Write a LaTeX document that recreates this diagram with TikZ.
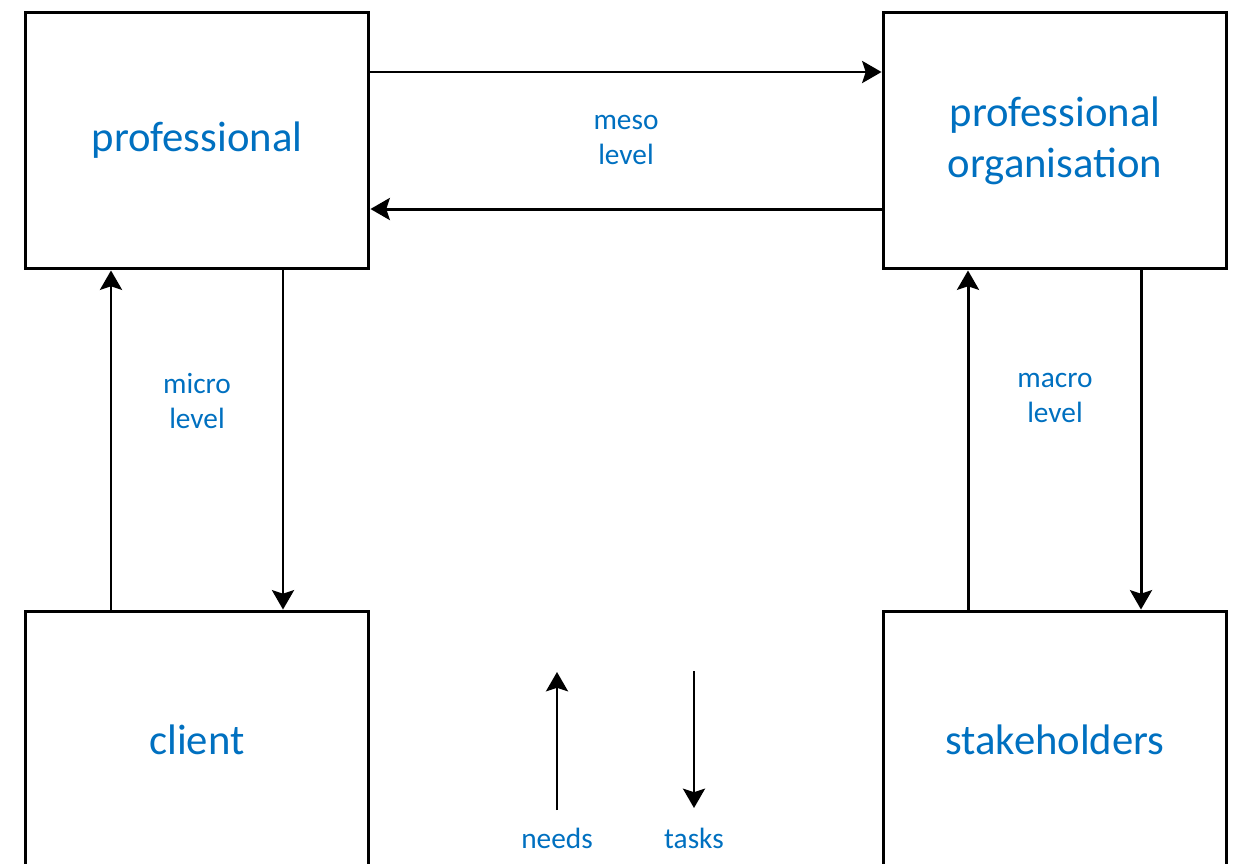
\documentclass[tikz,border=0pt]{standalone}
\usepackage{fontspec}
\setmainfont{Carlito}
\usetikzlibrary{arrows.meta}
\definecolor{txtblue}{HTML}{0070C0}
\tikzset{
  box/.style={draw, line width=1.7pt, minimum width=6.88cm, minimum height=5.14cm,
    text=txtblue, font=\fontsize{24.3}{29}\selectfont, align=center},
  lvl/.style={text=txtblue, font=\fontsize{16.7}{20}\selectfont, align=center},
  arr/.style={line width=1.7pt, -{Stealth[length=11pt, width=12.5pt, inset=2pt]}}
}
\begin{document}
\begin{tikzpicture}[x=0.02cm, y=-0.02cm]
            \useasboundingbox (0,0) rectangle (1235,863);
            \node[box] (prof) at (197,140.5) {professional};
            \node[box] (org) at (1055,140.5) {professional\\organisation};
            \node[box] (client) at (197,739.5) {client};
            \node[box] (stake) at (1055,739.5) {stakeholders};
            \node[lvl] (meso) at (626,140) {meso\\level};
            \node[lvl] (micro) at (197,401) {micro\\level};
            \node[lvl] (macro) at (1055,398) {macro\\level};
            \coordinate (nb) at (557,810);
            \coordinate (nt) at (557,672);
            \coordinate (tt) at (694,671);
            \coordinate (tb) at (694,808);
            \node[lvl] (needs) at (557,838) {needs};
            \node[lvl] (tasks) at (694,838) {tasks};
            \draw[arr] (prof.east |- 0,72) -- (org.west |- 0,72);
            \draw[arr] (org.west |- 0,209) -- (prof.east |- 0,209);
            \draw[arr] (client.north -| 111,0) -- (prof.south -| 111,0);
            \draw[arr] (prof.south -| 283,0) -- (client.north -| 283,0);
            \draw[arr] (stake.north -| 968,0) -- (org.south -| 968,0);
            \draw[arr] (org.south -| 1141,0) -- (stake.north -| 1141,0);
            \draw[arr] (nb) -- (nt);
            \draw[arr] (tt) -- (tb);
        \end{tikzpicture}
\end{document}
